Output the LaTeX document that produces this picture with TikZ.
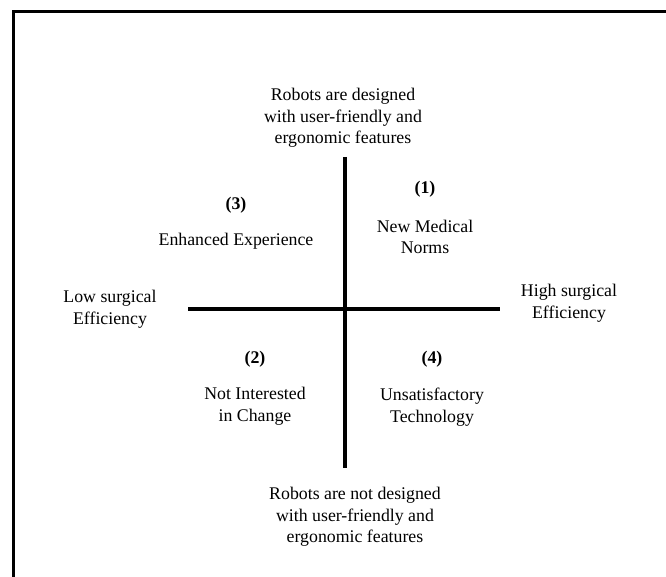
\documentclass[tikz,border=0pt]{standalone}
\usepackage{fontspec}
\setmainfont{Liberation Serif}
\begin{document}
\begin{tikzpicture}[x=1pt,y=-1pt,
  lbl/.style={align=center,font=\fontsize{17.8}{21.7}\selectfont,inner sep=0pt},
  num/.style={font=\fontsize{17.8}{21.7}\selectfont\bfseries,inner sep=0pt},
  axis/.style={line width=4pt}]
\useasboundingbox (0,0) rectangle (666,577);
\draw[line width=3pt] (13.5,590) -- (13.5,11.5) -- (680,11.5);
\coordinate (L) at (188,309);
\coordinate (R) at (500,309);
\coordinate (T) at (345,157);
\coordinate (B) at (345,468);
\draw[axis] (L) -- (R);
\draw[axis] (T) -- (B);
\node[lbl] (top) at (343,118) {Robots are designed\\with user-friendly and\\ergonomic features};
\node[lbl] (bot) at (355,517) {Robots are not designed\\with user-friendly and\\ergonomic features};
\node[lbl] (low) at (110,309) {Low surgical\\Efficiency};
\node[lbl] (high) at (569,303) {High surgical\\Efficiency};
\node[num] (n3) at (236,205) {(3)};
\node[lbl] (q3) at (236,241) {Enhanced Experience};
\node[num] (n1) at (425,189) {(1)};
\node[lbl] (q1) at (425,237) {New Medical\\Norms};
\node[num] (n2) at (255,359) {(2)};
\node[lbl] (q2) at (255,406) {Not Interested\\in Change};
\node[num] (n4) at (432,359) {(4)};
\node[lbl] (q4) at (432,407) {Unsatisfactory\\Technology};
\end{tikzpicture}
\end{document}
